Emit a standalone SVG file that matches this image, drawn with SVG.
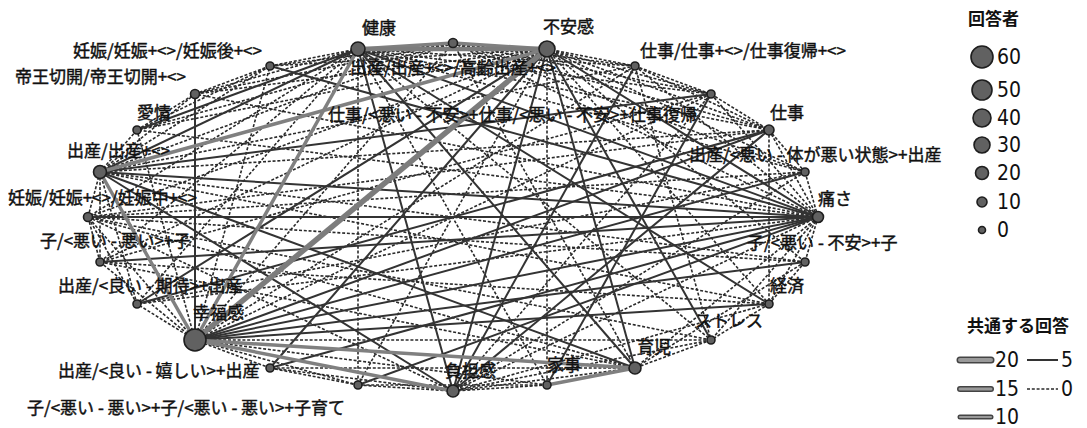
<svg xmlns="http://www.w3.org/2000/svg" width="1087" height="428" viewBox="0 0 1087 428">
<style>
.d{stroke:#2a2a2a;stroke-width:1.6;stroke-dasharray:3 1.8;fill:none}
.s{stroke:#333;stroke-width:2;fill:none}
.t10{stroke:#808080;stroke-width:3.5;fill:none}
.t15{stroke:#7c7c7c;stroke-width:4.5;fill:none}
.t20{stroke:#7c7c7c;stroke-width:5.5;fill:none}
.n{fill:#616161;stroke:#1e1e1e;stroke-width:1.6}
.lb{font-family:"Noto Sans CJK JP",sans-serif;font-size:17px;fill:#111;stroke:#111;stroke-width:0.45}
.lt{font-family:"Noto Sans CJK JP",sans-serif;font-size:17px;font-weight:bold;fill:#111}
.num{font-family:"Liberation Sans Narrow","DejaVu Sans Condensed","Liberation Sans",sans-serif;font-size:21px;fill:#111}
.lo{stroke:#444;fill:none;stroke-linecap:round}
.li{stroke:#999;fill:none;stroke-linecap:round}
</style>
<rect width="1087" height="428" fill="#fff"/>
<g id="connectors">
<g class="d">
<line x1="358" y1="49" x2="270" y2="66"/>
<line x1="358" y1="49" x2="195" y2="94"/>
<line x1="358" y1="49" x2="88" y2="217"/>
<line x1="358" y1="49" x2="100" y2="262"/>
<line x1="358" y1="49" x2="635" y2="66"/>
<line x1="358" y1="49" x2="711" y2="94"/>
<line x1="358" y1="49" x2="769" y2="130"/>
<line x1="358" y1="49" x2="805" y2="172"/>
<line x1="358" y1="49" x2="711" y2="340"/>
<line x1="358" y1="49" x2="547" y2="385"/>
<line x1="358" y1="49" x2="358" y2="385"/>
<line x1="358" y1="49" x2="137" y2="304"/>
<line x1="453" y1="43" x2="270" y2="66"/>
<line x1="453" y1="43" x2="195" y2="94"/>
<line x1="453" y1="43" x2="137" y2="130"/>
<line x1="453" y1="43" x2="100" y2="172"/>
<line x1="453" y1="43" x2="635" y2="66"/>
<line x1="453" y1="43" x2="711" y2="94"/>
<line x1="453" y1="43" x2="769" y2="130"/>
<line x1="453" y1="43" x2="805" y2="172"/>
<line x1="453" y1="43" x2="818" y2="217"/>
<line x1="453" y1="43" x2="635" y2="368"/>
<line x1="453" y1="43" x2="195" y2="340"/>
<line x1="547" y1="49" x2="635" y2="66"/>
<line x1="547" y1="49" x2="711" y2="94"/>
<line x1="547" y1="49" x2="769" y2="130"/>
<line x1="547" y1="49" x2="805" y2="172"/>
<line x1="547" y1="49" x2="805" y2="262"/>
<line x1="547" y1="49" x2="769" y2="304"/>
<line x1="547" y1="49" x2="547" y2="385"/>
<line x1="547" y1="49" x2="358" y2="385"/>
<line x1="547" y1="49" x2="100" y2="262"/>
<line x1="547" y1="49" x2="88" y2="217"/>
<line x1="547" y1="49" x2="195" y2="94"/>
<line x1="547" y1="49" x2="270" y2="66"/>
<line x1="547" y1="49" x2="137" y2="130"/>
<line x1="635" y1="66" x2="711" y2="94"/>
<line x1="635" y1="66" x2="769" y2="130"/>
<line x1="635" y1="66" x2="818" y2="217"/>
<line x1="635" y1="66" x2="195" y2="340"/>
<line x1="635" y1="66" x2="100" y2="172"/>
<line x1="635" y1="66" x2="711" y2="340"/>
<line x1="711" y1="94" x2="769" y2="130"/>
<line x1="711" y1="94" x2="818" y2="217"/>
<line x1="711" y1="94" x2="195" y2="340"/>
<line x1="711" y1="94" x2="453" y2="391"/>
<line x1="711" y1="94" x2="100" y2="262"/>
<line x1="769" y1="130" x2="805" y2="172"/>
<line x1="769" y1="130" x2="818" y2="217"/>
<line x1="769" y1="130" x2="769" y2="304"/>
<line x1="769" y1="130" x2="100" y2="172"/>
<line x1="769" y1="130" x2="88" y2="217"/>
<line x1="805" y1="172" x2="818" y2="217"/>
<line x1="805" y1="172" x2="453" y2="391"/>
<line x1="805" y1="172" x2="88" y2="217"/>
<line x1="805" y1="172" x2="137" y2="304"/>
<line x1="818" y1="217" x2="805" y2="262"/>
<line x1="818" y1="217" x2="769" y2="304"/>
<line x1="818" y1="217" x2="711" y2="340"/>
<line x1="818" y1="217" x2="635" y2="368"/>
<line x1="818" y1="217" x2="453" y2="391"/>
<line x1="818" y1="217" x2="137" y2="304"/>
<line x1="818" y1="217" x2="137" y2="130"/>
<line x1="818" y1="217" x2="195" y2="94"/>
<line x1="805" y1="262" x2="769" y2="304"/>
<line x1="805" y1="262" x2="100" y2="172"/>
<line x1="805" y1="262" x2="635" y2="368"/>
<line x1="805" y1="262" x2="88" y2="217"/>
<line x1="769" y1="304" x2="711" y2="340"/>
<line x1="769" y1="304" x2="453" y2="391"/>
<line x1="769" y1="304" x2="100" y2="172"/>
<line x1="769" y1="304" x2="100" y2="262"/>
<line x1="711" y1="340" x2="635" y2="368"/>
<line x1="711" y1="340" x2="195" y2="340"/>
<line x1="711" y1="340" x2="453" y2="391"/>
<line x1="711" y1="340" x2="88" y2="217"/>
<line x1="635" y1="368" x2="453" y2="391"/>
<line x1="635" y1="368" x2="270" y2="368"/>
<line x1="635" y1="368" x2="88" y2="217"/>
<line x1="635" y1="368" x2="100" y2="262"/>
<line x1="547" y1="385" x2="453" y2="391"/>
<line x1="547" y1="385" x2="195" y2="340"/>
<line x1="547" y1="385" x2="358" y2="385"/>
<line x1="453" y1="391" x2="358" y2="385"/>
<line x1="453" y1="391" x2="270" y2="368"/>
<line x1="358" y1="385" x2="270" y2="368"/>
<line x1="358" y1="385" x2="195" y2="340"/>
<line x1="270" y1="368" x2="195" y2="340"/>
<line x1="195" y1="340" x2="137" y2="304"/>
<line x1="195" y1="340" x2="100" y2="262"/>
<line x1="195" y1="340" x2="88" y2="217"/>
<line x1="195" y1="340" x2="137" y2="130"/>
<line x1="195" y1="340" x2="270" y2="66"/>
<line x1="137" y1="304" x2="100" y2="172"/>
<line x1="137" y1="304" x2="88" y2="217"/>
<line x1="100" y1="262" x2="88" y2="217"/>
<line x1="100" y1="262" x2="100" y2="172"/>
<line x1="88" y1="217" x2="100" y2="172"/>
<line x1="88" y1="217" x2="453" y2="391"/>
<line x1="100" y1="172" x2="137" y2="130"/>
<line x1="100" y1="172" x2="195" y2="94"/>
<line x1="100" y1="172" x2="270" y2="66"/>
<line x1="137" y1="130" x2="195" y2="94"/>
<line x1="137" y1="130" x2="270" y2="66"/>
<line x1="195" y1="94" x2="270" y2="66"/>
</g>
<g class="s">
<line x1="100" y1="172" x2="358" y2="49"/>
<line x1="100" y1="172" x2="711" y2="94"/>
<line x1="100" y1="172" x2="818" y2="217"/>
<line x1="100" y1="172" x2="635" y2="368"/>
<line x1="100" y1="172" x2="453" y2="391"/>
<line x1="195" y1="340" x2="769" y2="130"/>
<line x1="195" y1="340" x2="805" y2="172"/>
<line x1="195" y1="340" x2="805" y2="262"/>
<line x1="195" y1="340" x2="769" y2="304"/>
<line x1="195" y1="340" x2="818" y2="217"/>
<line x1="195" y1="340" x2="195" y2="94"/>
<line x1="358" y1="49" x2="818" y2="217"/>
<line x1="358" y1="49" x2="635" y2="368"/>
<line x1="358" y1="49" x2="453" y2="391"/>
<line x1="358" y1="49" x2="769" y2="304"/>
<line x1="358" y1="49" x2="137" y2="130"/>
<line x1="547" y1="49" x2="818" y2="217"/>
<line x1="547" y1="49" x2="635" y2="368"/>
<line x1="547" y1="49" x2="453" y2="391"/>
<line x1="547" y1="49" x2="137" y2="304"/>
<line x1="547" y1="49" x2="270" y2="368"/>
<line x1="547" y1="49" x2="711" y2="340"/>
<line x1="818" y1="217" x2="358" y2="385"/>
<line x1="818" y1="217" x2="88" y2="217"/>
<line x1="818" y1="217" x2="270" y2="368"/>
<line x1="818" y1="217" x2="100" y2="262"/>
<line x1="769" y1="130" x2="453" y2="391"/>
<line x1="769" y1="130" x2="137" y2="304"/>
<line x1="270" y1="66" x2="818" y2="217"/>
<line x1="711" y1="94" x2="547" y2="385"/>
<line x1="635" y1="66" x2="453" y2="391"/>
</g>
<line class="t10" x1="358" y1="49" x2="453" y2="43"/>
<line class="t10" x1="453" y1="43" x2="547" y2="49"/>
<line class="t15" x1="358" y1="49" x2="547" y2="49"/>
<line class="t20" x1="195" y1="340" x2="547" y2="49"/>
<line class="t10" x1="195" y1="340" x2="358" y2="49"/>
<line class="t10" x1="195" y1="340" x2="100" y2="172"/>
<line class="t10" x1="195" y1="340" x2="635" y2="368"/>
<line class="t10" x1="195" y1="340" x2="453" y2="391"/>
<line class="t10" x1="547" y1="385" x2="635" y2="368"/>
<line class="t10" x1="100" y1="172" x2="547" y2="49"/>
</g>
<g id="node-kourei"><circle class="n" cx="453" cy="43" r="4.5"/><text class="lb" x="350" y="74">出産/出産+&lt;&gt;/高齢出産+&lt;&gt;</text></g>
<g id="node-fuankan"><circle class="n" cx="547" cy="49" r="8"/><text class="lb" x="543" y="33">不安感</text></g>
<g id="node-shigoto-fukki"><circle class="n" cx="635" cy="66" r="4"/><text class="lb" x="640" y="57">仕事/仕事+&lt;&gt;/仕事復帰+&lt;&gt;</text></g>
<g id="node-shigoto-fuan"><circle class="n" cx="711" cy="94" r="4"/><text class="lb" x="328" y="121">仕事/&lt;悪い - 不安&gt;+仕事/&lt;悪い - 不安&gt;+仕事復帰</text></g>
<g id="node-shigoto"><circle class="n" cx="769" cy="130" r="5"/><text class="lb" x="770" y="119">仕事</text></g>
<g id="node-karada"><circle class="n" cx="805" cy="172" r="4"/><text class="lb" x="689" y="161">出産/&lt;悪い - 体が悪い状態&gt;+出産</text></g>
<g id="node-itasa"><circle class="n" cx="818" cy="217" r="5.5"/><text class="lb" x="818" y="205">痛さ</text></g>
<g id="node-ko-fuan"><circle class="n" cx="805" cy="262" r="4"/><text class="lb" x="747" y="249">子/&lt;悪い - 不安&gt;+子</text></g>
<g id="node-keizai"><circle class="n" cx="769" cy="304" r="4"/><text class="lb" x="770" y="292">経済</text></g>
<g id="node-stress"><circle class="n" cx="711" cy="340" r="4"/><text class="lb" x="695" y="327">ストレス</text></g>
<g id="node-ikuji"><circle class="n" cx="635" cy="368" r="6"/><text class="lb" x="637" y="353">育児</text></g>
<g id="node-kaji"><circle class="n" cx="547" cy="385" r="4"/><text class="lb" x="547" y="371">家事</text></g>
<g id="node-futankan"><circle class="n" cx="453" cy="391" r="6"/><text class="lb" x="445" y="377">負担感</text></g>
<g id="node-kosodate"><circle class="n" cx="358" cy="385" r="4"/><text class="lb" x="27" y="414">子/&lt;悪い - 悪い&gt;+子/&lt;悪い - 悪い&gt;+子育て</text></g>
<g id="node-ureshii"><circle class="n" cx="270" cy="368" r="4"/><text class="lb" x="58" y="377">出産/&lt;良い - 嬉しい&gt;+出産</text></g>
<g id="node-koufukukan"><circle class="n" cx="195" cy="340" r="11"/><text class="lb" x="193" y="319">幸福感</text></g>
<g id="node-kitai"><circle class="n" cx="137" cy="304" r="4"/><text class="lb" x="58" y="292">出産/&lt;良い - 期待&gt;+出産</text></g>
<g id="node-ko-warui"><circle class="n" cx="100" cy="262" r="4"/><text class="lb" x="40" y="247">子/&lt;悪い - 悪い&gt;+子</text></g>
<g id="node-ninshinchu"><circle class="n" cx="88" cy="217" r="4.5"/><text class="lb" x="8" y="204">妊娠/妊娠+&lt;&gt;/妊娠中+&lt;&gt;</text></g>
<g id="node-shussan"><circle class="n" cx="100" cy="172" r="6.5"/><text class="lb" x="67" y="157">出産/出産+&lt;&gt;</text></g>
<g id="node-aijou"><circle class="n" cx="137" cy="130" r="4"/><text class="lb" x="137" y="119">愛情</text></g>
<g id="node-teiou"><circle class="n" cx="195" cy="94" r="4.5"/><text class="lb" x="15" y="83">帝王切開/帝王切開+&lt;&gt;</text></g>
<g id="node-ninshingo"><circle class="n" cx="270" cy="66" r="4"/><text class="lb" x="73" y="57">妊娠/妊娠+&lt;&gt;/妊娠後+&lt;&gt;</text></g>
<g id="node-kenkou"><circle class="n" cx="358" cy="49" r="7"/><text class="lb" x="362" y="34">健康</text></g>
<g id="legend-size">
<text class="lt" x="968" y="25">回答者</text>
<circle class="n" cx="982" cy="57" r="11"/><text class="num" x="997" y="64">60</text>
<circle class="n" cx="982" cy="90" r="10"/><text class="num" x="997" y="97">50</text>
<circle class="n" cx="982" cy="118" r="9"/><text class="num" x="997" y="125">40</text>
<circle class="n" cx="982" cy="145" r="8"/><text class="num" x="997" y="152">30</text>
<circle class="n" cx="982" cy="173" r="6.5"/><text class="num" x="997" y="180">20</text>
<circle class="n" cx="982" cy="202" r="5"/><text class="num" x="997" y="209">10</text>
<circle class="n" cx="982" cy="230" r="3.5"/><text class="num" x="997" y="237">0</text>
</g>
<g id="legend-edge">
<text class="lt" x="967" y="332">共通する回答</text>
<line class="lo" x1="960" y1="360" x2="991" y2="360" stroke-width="7"/><line class="li" x1="960" y1="360" x2="991" y2="360" stroke-width="4"/>
<text class="num" x="995" y="367">20</text>
<line class="lo" x1="960" y1="389" x2="991" y2="389" stroke-width="6"/><line class="li" x1="960" y1="389" x2="991" y2="389" stroke-width="3"/>
<text class="num" x="995" y="396">15</text>
<line class="lo" x1="960" y1="417" x2="991" y2="417" stroke-width="5"/><line class="li" x1="960" y1="417" x2="991" y2="417" stroke-width="2.2"/>
<text class="num" x="995" y="424">10</text>
<line class="s" x1="1027" y1="360" x2="1058" y2="360"/>
<text class="num" x="1061" y="367">5</text>
<line class="d" x1="1027" y1="389" x2="1058" y2="389"/>
<text class="num" x="1061" y="396">0</text>
</g>
</svg>
